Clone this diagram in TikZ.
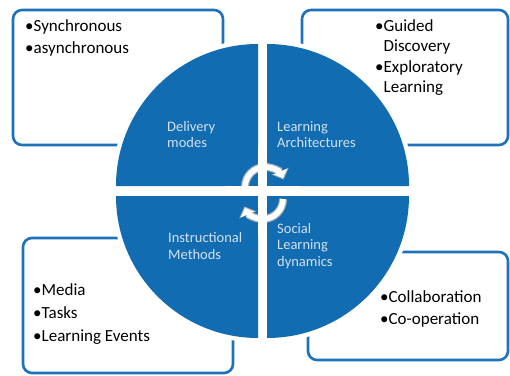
\documentclass[tikz,border=0pt]{standalone}
\usepackage{fontspec}
\setmainfont{Carlito}
\usetikzlibrary{arrows.meta, positioning}
\definecolor{wheelblue}{RGB}{17, 108, 178}
\definecolor{boxblue}{RGB}{30, 114, 186}
\definecolor{labelpale}{RGB}{212, 225, 240}
\definecolor{ringgray}{RGB}{170, 178, 186}

\begin{document}
\begin{tikzpicture}[
  x=1pt, y=1pt,
  itembox/.style={rectangle, rounded corners=9pt, draw=boxblue, line width=2.6pt, inner sep=0pt},
  quad/.style={fill=wheelblue, preaction={fill=white, draw=white, line width=9pt}},
  quadlabel/.style={anchor=base west, inner sep=0pt, align=left, text=labelpale,
                    font=\fontsize{14.5}{16.5}\selectfont},
  itemlist/.style={anchor=base west, inner sep=0pt, align=left,
                   font=\fontsize{17}{20.5}\selectfont},
  ringout/.style={draw=ringgray, line width=8pt, -{Triangle[length=9pt, width=18pt]}},
  ringin/.style={draw=white, line width=5.5pt, shorten >=1.5pt, -{Triangle[length=7pt, width=14pt]}}
]
  \useasboundingbox (0,0) rectangle (510,375);

  % outer boxes
  \node[itembox, minimum width=210pt, minimum height=135pt] (modesbox) at (118,297.5) {};
  \node[itembox, minimum width=206pt, minimum height=135pt] (archbox) at (405,297.5) {};
  \node[itembox, minimum width=210pt, minimum height=135pt] (methodsbox) at (128,69.5) {};
  \node[itembox, minimum width=200pt, minimum height=108pt] (dynbox) at (408,69) {};

  % the four quarters of the wheel
  \foreach \cx/\cy/\a in {258/189/90, 267/189/0, 258/179/180, 267/179/270}
    \path[quad] (\cx,\cy) -- ++(\a:142) arc[start angle=\a, delta angle=90, radius=142] -- cycle;

  % labels sit on the baseline of their last line
  \node[quadlabel] (delivery) at (167,227) {Delivery\\modes};
  \node[quadlabel] (architectures) at (277,227) {Learning\\Architectures};
  \node[quadlabel] (methods) at (168,116) {Instructional\\Methods};
  \node[quadlabel] (dynamics) at (277,109) {Social\\Learning\\dynamics};

  % cycle arrows in the middle
  \draw[ringout] (265,188) ++(180:20) arc[start angle=180, end angle=22, radius=20];
  \draw[ringin]  (265,188) ++(180:20) arc[start angle=180, end angle=22, radius=20];
  \draw[ringout] (263,176) ++(0:20) arc[start angle=0, end angle=-158, radius=20];
  \draw[ringin]  (263,176) ++(0:20) arc[start angle=0, end angle=-158, radius=20];
  \fill[white] (258,140) rectangle (267,228);
  \fill[white] (225,179) rectangle (300,189);

  % bullet lists
  \node[itemlist] (modelist) at (25,321) {•Synchronous\\[1.5pt]•asynchronous};
  \node[itemlist] (archlist) at (375,282)
    {•Guided\\\phantom{•}Discovery\\•Exploratory\\\phantom{•}Learning};
  \node[itemlist] (methodlist) at (33,34) {•Media\\[2.5pt]•Tasks\\[2.5pt]•Learning Events};
  \node[itemlist] (dynlist) at (380,51) {•Collaboration\\[1.5pt]•Co-operation};
\end{tikzpicture}
\end{document}
